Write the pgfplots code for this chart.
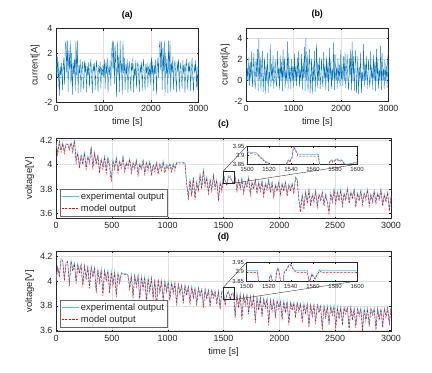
\documentclass[border=0pt]{standalone}
\usepackage{fontspec}
\setmainfont{Liberation Sans}
\usepackage{pgfplots}
\usepackage{pgfplotstable}
\pgfplotsset{compat=1.18}

\definecolor{mblue}{HTML}{0072BD}
\definecolor{mcyan}{HTML}{4DBEEE}
\definecolor{axgray}{HTML}{262626}

\pgfplotsset{
  mlab/.style={
    scale only axis,
    axis line style={draw=axgray, line width=0.4pt},
    tick style={draw=axgray, line width=0.3pt},
    major tick length=2bp,
    grid=major,
    major grid style={draw=black!12, line width=0.3pt},
    tick label style={font=\fontsize{9}{10}\selectfont, text=axgray},
    label style={font=\fontsize{9.5}{11}\selectfont, text=axgray},
    title style={font=\bfseries\fontsize{9}{10}\selectfont},
    /pgf/number format/assume math mode=true,
    /pgf/number format/1000 sep={},
    scaled ticks=false,
  },
  cur/.style={mlab, width=142.5bp, height=73.5bp, xmin=0, xmax=3000,
    xtick={0,1000,2000,3000}, ytick={-2,0,2,4}, ymin=-2,
    xlabel={time [s]}, ylabel={current[A]},
    ylabel style={yshift=-2bp}, xlabel style={yshift=1bp}},
  volt/.style={mlab, width=335bp, xmin=0, xmax=3000,
    xtick={0,500,...,3000}, ytick={3.6,3.8,4,4.2}, ylabel={voltage[V]},
    ylabel style={yshift=-1bp},
    legend cell align=left,
    legend style={anchor=south west, draw=axgray!70, line width=0.3pt,
      fill=white, font=\fontsize{9.5}{11}\selectfont, text=axgray,
      inner sep=1.2bp, row sep=-0.5bp}},
  ins/.style={scale only axis, axis background/.style={fill=white},
    axis line style={draw=axgray, line width=0.4pt},
    tick style={draw=axgray, line width=0.3pt}, major tick length=1.5bp,
    xmin=1500, xmax=1600, ymin=3.85, ymax=3.95,
    xtick={1500,1520,...,1600}, ytick={3.85,3.9,3.95},
    tick label style={font=\fontsize{6}{7}\selectfont, text=axgray},
    /pgf/number format/assume math mode=true,
    /pgf/number format/1000 sep={}, scaled ticks=false,
    xticklabel style={yshift=0.5bp}, yticklabel style={xshift=1bp}},
  expo/.style={draw=mcyan, line width=0.6pt},
  modo/.style={draw=red, line width=0.45pt, dash pattern=on 2.2bp off 1.4bp},
}

\begin{document}

\pgfplotstableread{
t v
0 2.0
15 0.2
30 1.7
45 -0.8
60 1.3
75 -1.5
90 0.9
105 0.2
120 1.2
135 -1.0
150 0.8
165 1.6
180 -0.6
195 2.6
210 3.0
225 0.4
240 3.0
255 -1.2
270 2.2
285 0.6
300 3.0
315 -0.6
330 2.0
345 -1.4
360 1.2
375 0.3
390 1.6
405 -1.1
420 3.0
435 0.2
450 3.0
465 -1.3
480 1.0
495 0.3
510 1.5
525 -1.2
540 0.6
555 1.3
570 0.0
585 -1.0
600 1.4
615 0.4
630 1.2
645 -1.2
660 0.9
675 0.2
690 1.3
705 -0.8
720 0.8
735 1.5
750 0.0
765 -1.3
780 1.1
795 0.5
810 1.2
825 -1.0
840 0.7
855 1.4
870 0.1
885 -1.2
900 1.0
915 0.3
930 1.3
945 -0.9
960 0.8
975 0.2
990 1.1
1005 0.0
1020 1.5
1035 -0.9
1050 1.2
1065 0.3
1080 1.6
1095 -1.3
1110 0.9
1125 0.2
1140 1.4
1155 -0.7
1170 1.8
1185 3.0
1200 0.5
1215 3.0
1230 -0.5
1245 2.6
1260 0.8
1275 -1.6
1290 3.0
1305 0.2
1320 1.7
1335 -1.2
1350 3.0
1365 0.4
1380 1.2
1395 -1.4
1410 3.0
1425 0.3
1440 1.6
1455 -1.0
1470 1.1
1485 0.2
1500 1.5
1515 -1.3
1530 0.8
1545 1.3
1560 0.0
1575 -1.1
1590 1.2
1605 0.5
1620 1.6
1635 -1.2
1650 0.7
1665 0.1
1680 1.4
1695 -0.9
1710 0.9
1725 1.3
1740 0.2
1755 -1.2
1770 1.0
1785 0.4
1800 1.3
1815 -1.1
1830 0.8
1845 1.5
1860 0.0
1875 -1.0
1890 1.1
1905 0.3
1920 1.2
1935 -0.8
1950 0.9
1965 0.1
1980 1.3
1995 -0.6
2010 1.7
2025 0.2
2040 1.3
2055 -1.1
2070 1.0
2085 0.3
2100 1.5
2115 -1.4
2130 0.8
2145 1.6
2160 0.0
2175 2.5
2190 3.0
2205 0.6
2220 3.0
2235 -1.0
2250 2.4
2265 0.5
2280 3.0
2295 -1.5
2310 2.0
2325 0.3
2340 1.5
2355 -1.3
2370 3.0
2385 0.2
2400 3.0
2415 -1.2
2430 1.2
2445 0.4
2460 1.7
2475 -1.0
2490 0.9
2505 1.4
2520 0.1
2535 -1.2
2550 1.3
2565 0.5
2580 1.5
2595 -1.1
2610 0.6
2625 1.2
2640 0.0
2655 -0.9
2670 1.4
2685 0.3
2700 1.1
2715 -1.3
2730 0.8
2745 1.5
2760 0.2
2775 -1.0
2790 1.2
2805 0.4
2820 1.3
2835 -1.1
2850 0.7
2865 1.6
2880 0.0
2895 -1.2
2910 1.0
2925 0.4
2940 1.4
2955 -0.8
2970 0.9
2985 -1.0
3000 1.2
}\curA

\pgfplotstableread{
t v
0 3.1
15 -0.3
30 1.2
45 0.0
60 2.2
75 -0.5
90 1.8
105 0.0
120 2.8
135 -0.6
150 0.8
165 2.6
180 0.0
195 -0.8
210 2.0
225 0.3
240 3.0
255 -1.0
270 4.0
285 0.0
300 2.2
315 -0.9
330 1.5
345 2.8
360 -1.1
375 0.5
390 2.2
405 -1.3
420 1.4
435 0.0
450 2.6
465 -1.2
480 0.8
495 0.0
510 3.5
525 -0.6
540 1.6
555 0.0
570 2.4
585 -0.8
600 0.6
615 2.0
630 0.0
645 -0.6
660 2.8
675 0.2
690 1.3
705 -0.9
720 2.4
735 0.0
750 1.8
765 -1.0
780 3.0
795 0.1
810 2.2
825 -0.7
840 1.0
855 0.0
870 3.7
885 -0.9
900 2.6
915 0.0
930 1.2
945 -0.8
960 2.0
975 0.0
990 1.4
1005 -0.7
1020 2.6
1035 0.0
1050 1.4
1065 -0.5
1080 2.2
1095 0.1
1110 2.9
1125 -0.6
1140 1.0
1155 0.0
1170 2.5
1185 -0.9
1200 1.8
1215 0.2
1230 3.2
1245 -1.0
1260 4.0
1275 0.0
1290 2.4
1305 -1.1
1320 1.3
1335 3.0
1350 -1.2
1365 0.4
1380 2.1
1395 -1.3
1410 1.5
1425 0.0
1440 2.8
1455 -1.1
1470 0.7
1485 3.5
1500 -0.7
1515 1.8
1530 0.0
1545 2.2
1560 -0.8
1575 0.5
1590 2.1
1605 0.0
1620 -0.6
1635 2.7
1650 0.2
1665 1.4
1680 -0.9
1695 2.3
1710 0.0
1725 1.7
1740 -1.0
1755 3.1
1770 0.1
1785 2.0
1800 -0.8
1815 1.1
1830 0.0
1845 3.6
1860 -0.9
1875 2.5
1890 0.0
1905 1.3
1920 -0.8
1935 2.1
1950 0.0
1965 1.5
1980 -0.6
1995 2.9
2010 0.0
2025 1.3
2040 -0.5
2055 2.3
2070 0.0
2085 2.7
2100 -0.7
2115 0.9
2130 2.5
2145 0.0
2160 -0.9
2175 2.1
2190 0.3
2205 3.0
2220 -1.0
2235 3.7
2250 0.0
2265 2.3
2280 -1.0
2295 1.4
2310 2.9
2325 -1.2
2340 0.5
2355 2.3
2370 -1.3
2385 1.3
2400 0.0
2415 2.7
2430 -1.2
2445 0.8
2460 0.0
2475 3.5
2490 -0.6
2505 1.7
2520 0.0
2535 2.3
2550 -0.8
2565 0.6
2580 2.0
2595 0.0
2610 -0.7
2625 2.8
2640 0.2
2655 1.2
2670 -0.9
2685 2.5
2700 0.0
2715 1.8
2730 -1.0
2745 3.0
2760 0.0
2775 2.1
2790 -0.8
2805 1.0
2820 0.0
2835 3.3
2850 -0.9
2865 2.6
2880 0.0
2895 1.2
2910 -0.8
2925 2.0
2940 0.0
2955 1.4
2970 -0.7
2985 2.4
3000 0.6
}\curB

\pgfplotstableread{
t e m
0 4.18 4.18
15 4.10 4.08
30 4.19 4.19
45 4.12 4.10
60 4.18 4.17
75 4.11 4.09
90 4.17 4.16
105 4.17 4.165
120 4.14 4.12
135 4.18 4.175
150 4.12 4.10
165 4.20 4.195
180 4.04 4.01
195 4.10 4.09
210 3.99 3.97
225 4.08 4.07
240 4.02 4.00
255 4.10 4.09
270 3.98 3.96
285 4.07 4.06
300 4.03 4.01
315 4.15 4.14
330 3.98 3.96
345 4.10 4.09
360 4.02 4.00
375 4.08 4.07
390 3.95 3.93
405 4.05 4.04
420 3.98 3.96
435 4.07 4.06
450 3.96 3.93
465 4.06 4.05
480 4.00 3.98
495 3.88 3.86
510 4.04 4.03
525 3.98 3.96
540 4.06 4.05
555 3.95 3.93
570 4.03 4.02
585 3.99 3.97
600 4.07 4.06
615 3.96 3.94
630 4.02 4.01
645 3.99 3.97
660 4.05 4.04
675 3.95 3.93
690 4.02 4.01
705 3.98 3.96
720 4.04 4.03
735 3.93 3.91
750 4.01 4.00
765 3.98 3.96
780 4.04 4.03
795 3.94 3.92
810 4.02 4.01
825 3.97 3.95
840 4.03 4.02
855 3.93 3.91
870 4.00 3.99
885 3.96 3.94
900 4.02 4.01
915 3.94 3.92
930 4.01 4.00
945 3.97 3.95
960 4.03 4.02
975 3.95 3.93
990 4.00 3.99
1005 3.98 3.96
1020 4.01 4.00
1035 3.96 3.94
1050 4.01 4.00
1065 3.97 3.95
1080 4.02 4.01
1095 4.02 4.015
1110 4.02 4.015
1125 4.02 4.015
1140 4.02 4.015
1155 4.01 4.00
1170 3.86 3.84
1185 3.74 3.72
1200 3.88 3.87
1215 3.76 3.74
1230 3.90 3.89
1245 3.73 3.71
1260 3.86 3.85
1275 3.80 3.78
1290 3.92 3.91
1305 3.82 3.80
1320 3.96 3.95
1335 3.84 3.82
1350 3.90 3.89
1365 3.78 3.76
1380 3.88 3.87
1395 3.80 3.78
1410 3.92 3.91
1425 3.82 3.80
1440 3.88 3.87
1455 3.72 3.70
1470 3.86 3.85
1485 3.80 3.78
1500 3.92 3.915
1515 3.87 3.865
1530 3.84 3.83
1545 3.91 3.90
1560 3.905 3.895
1575 3.87 3.86
1590 3.85 3.845
1605 3.90 3.89
1620 3.80 3.78
1635 3.88 3.87
1650 3.82 3.80
1665 3.89 3.88
1680 3.78 3.76
1695 3.86 3.85
1710 3.83 3.81
1725 3.90 3.89
1740 3.77 3.75
1755 3.86 3.85
1770 3.82 3.80
1785 3.88 3.87
1800 3.78 3.76
1815 3.86 3.85
1830 3.80 3.78
1845 3.87 3.86
1860 3.76 3.74
1875 3.85 3.84
1890 3.81 3.79
1905 3.88 3.87
1920 3.79 3.77
1935 3.86 3.85
1950 3.75 3.73
1965 3.84 3.83
1980 3.80 3.78
1995 3.86 3.85
2010 3.77 3.75
2025 3.85 3.84
2040 3.80 3.78
2055 3.86 3.85
2070 3.76 3.74
2085 3.84 3.83
2100 3.80 3.78
2115 3.85 3.84
2130 3.78 3.76
2145 3.90 3.89
2160 3.88 3.875
2175 3.72 3.70
2190 3.64 3.61
2205 3.76 3.75
2220 3.66 3.63
2235 3.78 3.77
2250 3.70 3.68
2265 3.80 3.79
2280 3.68 3.66
2295 3.76 3.75
2310 3.71 3.69
2325 3.79 3.78
2340 3.67 3.65
2355 3.76 3.75
2370 3.72 3.70
2385 3.78 3.77
2400 3.68 3.66
2415 3.76 3.75
2430 3.70 3.68
2445 3.62 3.60
2460 3.77 3.76
2475 3.71 3.69
2490 3.80 3.79
2505 3.70 3.68
2520 3.78 3.77
2535 3.72 3.70
2550 3.80 3.79
2565 3.68 3.66
2580 3.77 3.76
2595 3.73 3.71
2610 3.81 3.80
2625 3.70 3.68
2640 3.78 3.77
2655 3.74 3.72
2670 3.80 3.79
2685 3.67 3.65
2700 3.77 3.76
2715 3.72 3.70
2730 3.79 3.78
2745 3.69 3.67
2760 3.77 3.76
2775 3.73 3.71
2790 3.80 3.79
2805 3.68 3.66
2820 3.76 3.75
2835 3.71 3.69
2850 3.79 3.78
2865 3.70 3.68
2880 3.77 3.76
2895 3.73 3.71
2910 3.80 3.79
2925 3.68 3.66
2940 3.76 3.75
2955 3.71 3.69
2970 3.78 3.77
2985 3.64 3.62
3000 3.74 3.73
}\voltC

\pgfplotstableread{
t e m
1500 3.92 3.915
1503 3.915 3.91
1508 3.915 3.905
1510 3.905 3.90
1512 3.89 3.885
1514 3.885 3.88
1515 3.875 3.87
1517 3.865 3.86
1519 3.86 3.855
1520 3.85 3.845
1522 3.845 3.84
1525 3.84 3.835
1535 3.84 3.835
1536 3.855 3.85
1537 3.87 3.865
1538 3.875 3.87
1539 3.865 3.86
1540 3.88 3.875
1541 3.89 3.885
1542 3.94 3.935
1543 3.945 3.94
1544 3.93 3.925
1545 3.92 3.915
1546 3.905 3.895
1565 3.905 3.895
1566 3.84 3.835
1574 3.84 3.835
1575 3.865 3.86
1577 3.875 3.87
1578 3.865 3.86
1580 3.875 3.87
1582 3.88 3.875
1584 3.87 3.865
1586 3.875 3.87
1588 3.86 3.855
1590 3.85 3.845
1595 3.855 3.85
1598 3.86 3.855
1600 3.862 3.858
}\zoomC

\pgfplotstableread{
t e m
0 4.00 3.99
15 4.12 4.11
30 4.05 4.03
45 4.18 4.17
60 4.17 4.165
75 4.02 4.00
90 4.15 4.14
105 4.16 4.155
120 3.98 3.96
135 4.17 4.16
150 4.10 4.08
165 4.15 4.14
180 4.00 3.98
195 4.14 4.13
210 4.08 4.06
225 4.14 4.13
240 3.97 3.95
255 4.13 4.12
270 4.03 4.01
285 4.12 4.11
300 3.96 3.94
315 4.12 4.11
330 4.05 4.03
345 4.11 4.10
360 3.92 3.90
375 4.10 4.09
390 4.00 3.98
405 4.10 4.09
420 3.90 3.88
435 4.09 4.08
450 4.02 4.00
465 4.09 4.08
480 3.92 3.90
495 4.08 4.07
510 3.98 3.96
525 4.08 4.07
540 3.89 3.87
555 4.07 4.06
570 4.00 3.98
585 4.07 4.06
600 4.06 4.055
615 4.06 4.055
630 4.06 4.055
645 4.05 4.045
660 3.95 3.93
675 4.05 4.04
690 3.88 3.86
705 4.05 4.04
720 3.97 3.95
735 4.05 4.04
750 3.86 3.84
765 4.04 4.03
780 3.95 3.93
795 4.04 4.03
810 3.84 3.82
825 4.03 4.02
840 3.93 3.91
855 4.03 4.02
870 3.87 3.85
885 4.02 4.01
900 3.78 3.76
915 4.02 4.01
930 3.92 3.90
945 4.01 4.00
960 3.85 3.83
975 4.00 3.99
990 3.93 3.91
1005 4.00 3.99
1020 3.86 3.84
1035 3.99 3.98
1050 3.92 3.90
1065 3.99 3.98
1080 3.82 3.80
1095 3.98 3.97
1110 3.91 3.89
1125 3.97 3.96
1140 3.84 3.82
1155 3.97 3.96
1170 3.90 3.88
1185 3.96 3.95
1200 3.83 3.81
1215 3.96 3.95
1230 3.88 3.86
1245 3.95 3.94
1260 3.82 3.80
1275 3.95 3.94
1290 3.89 3.87
1305 3.94 3.93
1320 3.80 3.78
1335 3.94 3.93
1350 3.87 3.85
1365 3.93 3.92
1380 3.81 3.79
1395 3.93 3.92
1410 3.88 3.86
1425 3.92 3.91
1440 3.83 3.81
1455 3.92 3.91
1470 3.79 3.77
1485 3.92 3.91
1500 3.91 3.90
1515 3.82 3.80
1530 3.90 3.89
1545 3.92 3.91
1560 3.86 3.85
1575 3.90 3.895
1590 3.905 3.895
1605 3.72 3.70
1620 3.90 3.89
1635 3.80 3.78
1650 3.90 3.89
1665 3.70 3.68
1680 3.89 3.88
1695 3.82 3.80
1710 3.89 3.88
1725 3.75 3.73
1740 3.88 3.87
1755 3.80 3.78
1770 3.88 3.87
1785 3.68 3.66
1800 3.87 3.86
1815 3.78 3.76
1830 3.87 3.86
1845 3.73 3.71
1860 3.86 3.85
1875 3.80 3.78
1890 3.86 3.85
1905 3.66 3.64
1920 3.85 3.84
1935 3.77 3.75
1950 3.85 3.84
1965 3.72 3.70
1980 3.85 3.84
1995 3.79 3.77
2010 3.84 3.83
2025 3.70 3.68
2040 3.84 3.83
2055 3.76 3.74
2070 3.84 3.83
2085 3.66 3.64
2100 3.83 3.82
2115 3.78 3.76
2130 3.83 3.82
2145 3.72 3.70
2160 3.83 3.82
2175 3.77 3.75
2190 3.82 3.81
2205 3.68 3.66
2220 3.82 3.81
2235 3.75 3.73
2250 3.82 3.81
2265 3.64 3.62
2280 3.81 3.80
2295 3.73 3.71
2310 3.81 3.80
2325 3.67 3.65
2340 3.81 3.80
2355 3.76 3.74
2370 3.80 3.79
2385 3.62 3.60
2400 3.80 3.79
2415 3.72 3.70
2430 3.80 3.79
2445 3.66 3.64
2460 3.80 3.79
2475 3.74 3.72
2490 3.80 3.79
2505 3.63 3.61
2520 3.79 3.78
2535 3.71 3.69
2550 3.79 3.78
2565 3.66 3.64
2580 3.79 3.78
2595 3.75 3.73
2610 3.79 3.78
2625 3.62 3.60
2640 3.79 3.78
2655 3.70 3.68
2670 3.78 3.77
2685 3.64 3.62
2700 3.78 3.77
2715 3.73 3.71
2730 3.78 3.77
2745 3.61 3.59
2760 3.78 3.77
2775 3.69 3.67
2790 3.78 3.77
2805 3.65 3.63
2820 3.78 3.77
2835 3.74 3.72
2850 3.78 3.77
2865 3.62 3.60
2880 3.78 3.77
2895 3.70 3.68
2910 3.78 3.77
2925 3.64 3.62
2940 3.78 3.77
2955 3.72 3.70
2970 3.79 3.78
2985 3.66 3.64
3000 3.79 3.78
}\voltD

\pgfplotstableread{
t e m
1500 3.905 3.895
1510 3.905 3.895
1511 3.84 3.83
1520 3.84 3.83
1521 3.875 3.87
1522 3.885 3.88
1523 3.86 3.855
1524 3.84 3.83
1526 3.84 3.83
1527 3.895 3.89
1528 3.92 3.915
1529 3.915 3.91
1530 3.88 3.875
1531 3.84 3.83
1533 3.84 3.83
1534 3.90 3.895
1536 3.91 3.905
1538 3.935 3.93
1540 3.94 3.935
1541 3.93 3.925
1543 3.91 3.905
1545 3.905 3.895
1555 3.905 3.895
1556 3.86 3.855
1557 3.85 3.845
1559 3.89 3.885
1560 3.88 3.875
1562 3.865 3.86
1564 3.89 3.885
1566 3.91 3.905
1568 3.905 3.895
1600 3.905 3.895
}\zoomD

\begin{tikzpicture}
\path[use as bounding box] (0,0) rectangle (432bp,-373bp);

% (a)
\begin{axis}[cur, at={(56bp,-102bp)}, anchor=south west, ymax=4, title={(a)}]
  \addplot[draw=mblue, line width=0.35pt] table[x=t, y=v]{\curA};
\end{axis}

% (b)
\begin{axis}[cur, at={(246bp,-101.5bp)}, anchor=south west, ymax=5, title={(b)}]
  \addplot[draw=mblue, line width=0.35pt] table[x=t, y=v]{\curB};
\end{axis}

% (c)
\begin{axis}[volt, at={(56bp,-218.5bp)}, anchor=south west, height=80.8bp,
  ymin=3.56, ymax=4.22, title={(c)},
  legend style={at={(0.012,0.03)}}]
  \addplot[expo] table[x=t, y=e]{\voltC};
  \addplot[modo] table[x=t, y=m]{\voltC};
  \legend{experimental output, model output}
  \draw[axgray, line width=0.4pt] (axis cs:1500,3.85) rectangle (axis cs:1600,3.95);
  \coordinate (c1) at (axis cs:1500,3.95);
  \coordinate (c2) at (axis cs:1600,3.85);
\end{axis}
\begin{axis}[ins, name=cin, at={(247bp,-164.3bp)}, anchor=south west,
  width=110bp, height=18.3bp]
  \addplot[expo] table[x=t, y=e]{\zoomC};
  \addplot[modo] table[x=t, y=m]{\zoomC};
\end{axis}
\draw[axgray, line width=0.35pt] (c1) -- (cin.north west);
\draw[axgray, line width=0.35pt] (c2) -- (cin.south east);

% (d)
\begin{axis}[volt, at={(56bp,-331.5bp)}, anchor=south west, height=80.5bp,
  ymin=3.59, ymax=4.245, title={(d)}, xlabel={time [s]},
  xlabel style={yshift=1bp},
  legend style={at={(0.012,0.056)}}]
  \addplot[expo] table[x=t, y=e]{\voltD};
  \addplot[modo] table[x=t, y=m]{\voltD};
  \legend{experimental output, model output}
  \draw[axgray, line width=0.4pt] (axis cs:1500,3.85) rectangle (axis cs:1600,3.95);
  \coordinate (d1) at (axis cs:1500,3.95);
  \coordinate (d2) at (axis cs:1600,3.85);
\end{axis}
\begin{axis}[ins, name=din, at={(246.5bp,-281bp)}, anchor=south west,
  width=110.8bp, height=18.7bp]
  \addplot[expo] table[x=t, y=e]{\zoomD};
  \addplot[modo] table[x=t, y=m]{\zoomD};
\end{axis}
\draw[axgray, line width=0.35pt] (d1) -- (din.north west);
\draw[axgray, line width=0.35pt] (d2) -- (din.south east);
\end{tikzpicture}
\end{document}
